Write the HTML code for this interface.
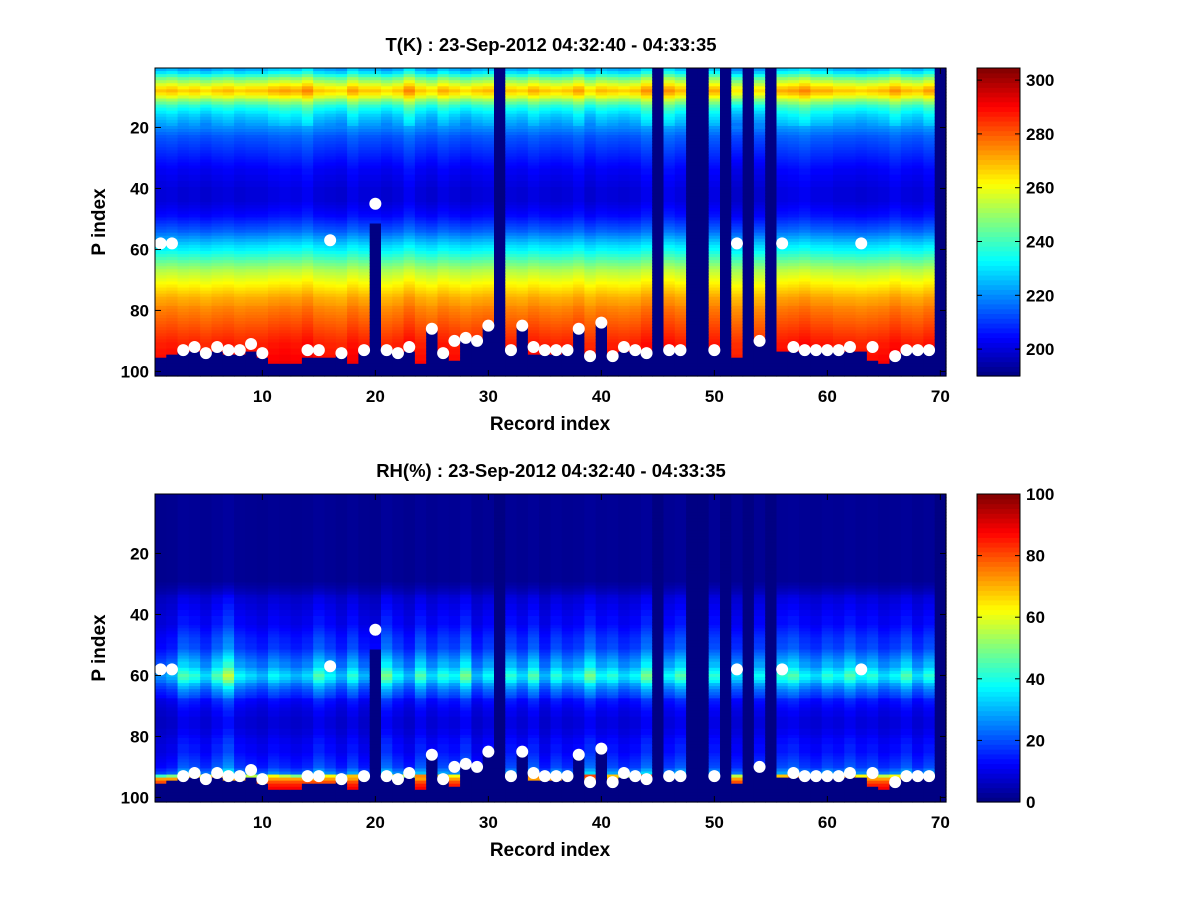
<!DOCTYPE html>
<html><head><meta charset="utf-8"><style>
body{margin:0;background:#fff;}
svg{display:block;font-family:"Liberation Sans",sans-serif;}
</style></head><body>
<svg id="fig" width="1200" height="900" viewBox="0 0 1200 900" xmlns="http://www.w3.org/2000/svg">
<rect width="1200" height="900" fill="#fff"/>
<g id="g1"></g>
<g id="g2"></g>
</svg>
<script>
// ----- data -----
const records = Array.from({length:70},(_,i)=>i+1);
const tProfile = [224,230,
238,246,252,258,
264,268,264,258,
250,244,238,234,231,228,
226,224,222,220,218,216,214,213,212,211,210,209,
208,207,206,205,204,203,203,202,202,201,201,200,200,200,200,200,201,202,203,204,
205,207,209,211,213,215,218,221,224,227,
230,232,235,238,241,244,247,250,
253,255,257,259,261,263,265,267,
269,271,272,273,275,276,277,278,279,280,
281,282,283,284,285,286,287,287,288,288,289,289,290,290,290,290];
const rhProfile = [2,2,2,2,2,2,2,2,2,2,2,2,2,2,2,2,2,2,2,2,2,2,2,2,2,2,2,2,2,3,4,5,6,
8,9,9,10,10,11,11,12,12,12,13,
14,15,16,17,17,18,18,
20,22,24,26,28,28,
32,35,38,36,33,
28,25,22,20,18,
14,13,12,11,10,10,9,9,9,9,10,10,
11,12,12,13,13,13,
14,15,16,17,
18,22,26,
62,72,80,85,88,88,88,88];
const tOffset = [0,1,-1,0,-2,0,1,-1,0,0,2,3,2,5,0,-1,-2,3,0,0,-2,0,5,0,-2,2,0,-2,0,1,
0,0,-1,2,0,-1,0,3,-2,1,0,-1,0,4,0,4,1,0,0,2,0,-3,0,-2,0,2,3,5,2,2,0,0,-1,0,1,4,1,0,3,0];
const rhScale = [0.7,0.8,1.2,1.1,0.9,1.2,1.5,1.0,0.9,0.8,1.0,0.9,0.8,0.9,1.2,1.0,0.8,1.1,0.8,0.7,
1.3,1.0,0.8,1.2,0.9,1.1,1.0,1.3,0.8,1.0,0,1.1,0.9,1.2,0.8,1.1,0.9,1.0,1.3,1.0,
1.1,0.9,1.0,1.3,0,1.0,1.2,0,0,1.1,0,0.9,0,1.0,0,1.1,1.2,1.0,0.9,1.1,1.0,1.2,1.0,1.1,0.9,1.0,1.2,0.9,1.1,0];
const surface = [95,94,93,93,94,93,94,94,93,95,97,97,97,95,95,95,94,97,93,51,93,94,93,97,86,94,96,89,90,85,
0,93,85,94,94,94,93,86,95,84,95,93,93,94,0,93,93,0,0,93,0,95,0,90,0,93,93,93,93,93,93,93,93,96,97,95,93,93,93,0];
const dots = [58,58,93,92,94,92,93,93,91,94,null,null,null,93,93,57,94,null,93,45,93,94,92,null,86,94,90,89,90,85,
null,93,85,92,93,93,93,86,95,84,95,92,93,94,null,93,93,null,null,93,null,58,null,90,null,58,92,93,93,93,93,92,58,92,null,95,93,93,93,null];
const xTicks = [10,20,30,40,50,60,70];
const yTicks = [20,40,60,80,100];
const tBarTicks = [200,220,240,260,280,300];
const rhBarTicks = [0,20,40,60,80,100];

const NS="http://www.w3.org/2000/svg";
function mk(tag,attrs,parent){const e=document.createElementNS(NS,tag);for(const k in attrs)e.setAttribute(k,attrs[k]);parent.appendChild(e);return e;}
function jet(t){t=Math.max(0,Math.min(1,t));const c=v=>Math.round(255*Math.max(0,Math.min(1,v)));
return `rgb(${c(1.5-Math.abs(4*t-3))},${c(1.5-Math.abs(4*t-2))},${c(1.5-Math.abs(4*t-1))})`;}
const NAVY="rgb(0,0,131)";

function panel(g,top,title,valFn,cmin,cmax,barTicks,nm){
  const L=155,R=946,B=top+308,W=R-L,H=308;
  const xs=i=>L+(i-0.5)*W/70, ys=p=>top+(p-0.5)*H/101;
  const cw=W/70,ch=H/101;
  const cells=mk('g',{},g);
  
  
  records.forEach((r,ci)=>{
    for(let p=1;p<=101;p++){
      const v=valFn(ci,p);
      const col=v===null?NAVY:jet((v-cmin)/(cmax-cmin));
      const rc=mk('rect',{x:(xs(r)-cw/2).toFixed(2),y:(ys(p)-ch/2).toFixed(2),width:(cw+0.6).toFixed(2),height:(ch+0.6).toFixed(2),fill:col},cells);
      
      
    }
  });
  records.forEach((r,ci)=>{ if(dots[ci]!==null){
    const d=mk('circle',{cx:xs(r),cy:ys(dots[ci]),r:6,fill:'#fff'},g);
    
    
  }});
  const fr=mk('rect',{x:L,y:top,width:W,height:H,fill:'none',stroke:'#000','stroke-width':1},g);
  
  
  xTicks.forEach(t=>{const x=xs(t);
    mk('line',{x1:x,y1:B,x2:x,y2:B-6,stroke:'#000'},g);mk('line',{x1:x,y1:top,x2:x,y2:top+6,stroke:'#000'},g);
    const tx=mk('text',{x:x,y:B+26,'text-anchor':'middle','font-size':17,'font-weight':'bold'},g);tx.textContent=t;
    
    
  });
  yTicks.forEach(t=>{const y=ys(t);
    mk('line',{x1:L,y1:y,x2:L+6,y2:y,stroke:'#000'},g);mk('line',{x1:R,y1:y,x2:R-6,y2:y,stroke:'#000'},g);
    const tx=mk('text',{x:L-6,y:y+6,'text-anchor':'end','font-size':17,'font-weight':'bold'},g);tx.textContent=t;
    
    
  });
  const ti=mk('text',{x:551,y:top-17,'text-anchor':'middle','font-size':18.5,'font-weight':'bold'},g);ti.textContent=title;
  
  
  const xl=mk('text',{x:550,y:B+54,'text-anchor':'middle','font-size':19,'font-weight':'bold'},g);xl.textContent='Record index';
  
  
  const yl=mk('text',{x:105,y:top+154,'text-anchor':'middle','font-size':19,'font-weight':'bold',transform:`rotate(-90 105 ${top+154})`},g);yl.textContent='P index';
  
  
  // colorbar
  const cb=mk('g',{},g);
  
  
  const CL=977,CW=43,N=64;
  for(let k=0;k<N;k++){mk('rect',{x:CL,y:(B-(k+1)*H/N).toFixed(2),width:CW,height:(H/N+0.6).toFixed(2),fill:jet((k+0.5)/N)},cb);}
  mk('rect',{x:CL,y:top,width:CW,height:H,fill:'none',stroke:'#000'},cb);
  const cy=v=>B-(v-cmin)/(cmax-cmin)*H;
  barTicks.forEach(t=>{const y=cy(t);
    mk('line',{x1:CL,y1:y,x2:CL+5,y2:y,stroke:'#000'},cb);mk('line',{x1:CL+CW,y1:y,x2:CL+CW-5,y2:y,stroke:'#000'},cb);
    const tx=mk('text',{x:CL+CW+6,y:y+6,'font-size':17,'font-weight':'bold'},cb);tx.textContent=t;
    
    
  });
}
panel(document.getElementById('g1'),68,'T(K) : 23-Sep-2012 04:32:40 - 04:33:35',
  (ci,p)=>(surface[ci]===0||p>surface[ci])?null:tProfile[p-1]+tOffset[ci]*(p<20?1.5:0.6),190,304.5,tBarTicks,'temperature');
panel(document.getElementById('g2'),494,'RH(%) : 23-Sep-2012 04:32:40 - 04:33:35',
  (ci,p)=>(surface[ci]===0||p>surface[ci])?null:rhProfile[p-1]*(p>93?1:rhScale[ci]),0,100,rhBarTicks,'humidity');
</script>
</body></html>
